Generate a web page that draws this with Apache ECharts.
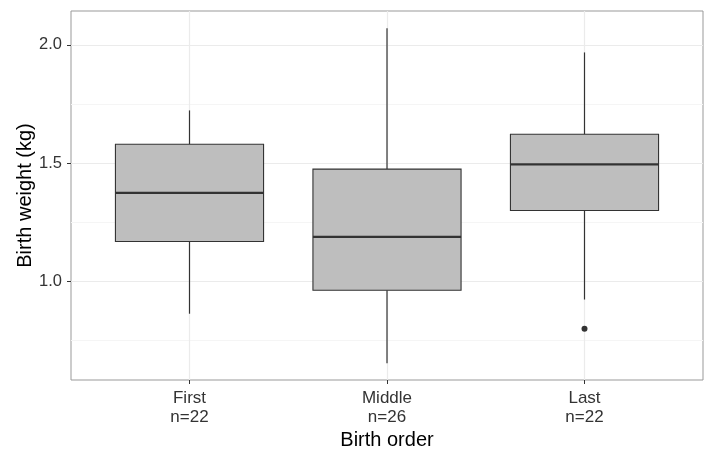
<!DOCTYPE html>
<html>
  <head>
    <meta charset="utf-8">
    <title>Birth weight by birth order</title>
    <style>
      html, body { margin: 0; padding: 0; background: #fff; }
      #main { width: 710px; height: 455px; }
    </style>
    <script src="https://cdn.jsdelivr.net/npm/echarts@6/dist/echarts.min.js"></script>
  </head>
  <body>
    <div id="main"></div>
    <script type="text/javascript">

      // data
      var groups = ['First', 'Middle', 'Last']
      var counts = [22, 26, 22]
      // [min, Q1, median, Q3, max]
      var boxFirst = [0.864, 1.169, 1.375, 1.580, 1.723]
      var boxMiddle = [0.655, 0.963, 1.189, 1.475, 2.070]
      var boxLast = [0.924, 1.300, 1.495, 1.622, 1.968]
      var outliers = [[3, 0.800]]
      var yTicks = [1.0, 1.5, 2.0]
      var yMinor = [0.75, 1.25, 1.75]

      var boxes = [boxFirst, boxMiddle, boxLast]
      var boxData = boxes.map(function (b, i) { return [i + 1].concat(b) })

      var font = 'Liberation Sans'
      var gridColor = '#ebebeb'
      var ink = '#333'

      var myChart = echarts.init(document.getElementById('main'))

      // ggplot-style box: no whisker caps, thick median
      function renderBox(params, api) {
        var x = api.value(0)
        var half = api.size([0.75, 0])[0] / 2
        var pMin = api.coord([x, api.value(1)])
        var pQ1 = api.coord([x, api.value(2)])
        var pMed = api.coord([x, api.value(3)])
        var pQ3 = api.coord([x, api.value(4)])
        var pMax = api.coord([x, api.value(5)])
        var cx = pMed[0]
        return {
          type: 'group',
          children: [
            { type: 'line', shape: { x1: cx, y1: pQ3[1], x2: cx, y2: pMax[1] }, style: { stroke: ink, lineWidth: 1.2 } },
            { type: 'line', shape: { x1: cx, y1: pQ1[1], x2: cx, y2: pMin[1] }, style: { stroke: ink, lineWidth: 1.2 } },
            {
              type: 'rect',
              shape: { x: cx - half, y: pQ3[1], width: half * 2, height: pQ1[1] - pQ3[1] },
              style: { fill: '#bebebe', stroke: ink, lineWidth: 1.1 }
            },
            { type: 'line', shape: { x1: cx - half, y1: pMed[1], x2: cx + half, y2: pMed[1] }, style: { stroke: ink, lineWidth: 2.2 } }
          ]
        }
      }

      var option = {
        animation: false,
        backgroundColor: '#fff',
        grid: {
          left: 71, right: 7, top: 11, bottom: 74,
          show: true,
          borderColor: '#999',
          borderWidth: 1,
          backgroundColor: '#fff'
        },
        xAxis: {
          type: 'value',
          min: 0.4,
          max: 3.6,
          name: 'Birth order',
          nameLocation: 'middle',
          nameGap: 50,
          nameMoveOverlap: false,
          nameTextStyle: { fontFamily: font, fontSize: 20, color: '#000', verticalAlign: 'top' },
          axisLine: { show: false },
          axisTick: { show: true, length: 4, customValues: [1, 2, 3], lineStyle: { color: ink } },
          axisLabel: {
            customValues: [1, 2, 3],
            fontFamily: font, fontSize: 17, color: '#333', lineHeight: 19, margin: 9,
            formatter: function (v) {
              var i = Math.round(v) - 1
              return groups[i] + '\nn=' + counts[i]
            }
          },
          splitLine: { show: false }
        },
        yAxis: {
          type: 'value',
          min: 0.584,
          max: 2.143,
          name: 'Birth weight (kg)',
          nameLocation: 'middle',
          nameGap: 36,
          nameMoveOverlap: false,
          nameTextStyle: { fontFamily: font, fontSize: 20, color: '#000', verticalAlign: 'bottom' },
          axisLine: { show: false },
          axisTick: { show: true, length: 4, customValues: yTicks, lineStyle: { color: ink } },
          axisLabel: {
            customValues: yTicks,
            fontFamily: font, fontSize: 16.5, color: '#333', margin: 9,
            formatter: function (v) { return v.toFixed(1) }
          },
          splitLine: { show: false }
        },
        series: [
          {
            // panel grid lines
            type: 'scatter',
            data: [],
            z: 1,
            silent: true,
            markLine: {
              z: 1,
              silent: true,
              symbol: 'none',
              label: { show: false },
              animation: false,
              data: yMinor.map(function (v) {
                return { yAxis: v, lineStyle: { color: '#f5f5f5', width: 1, type: 'solid' } }
              }).concat(yTicks.map(function (v) {
                return { yAxis: v, lineStyle: { color: gridColor, width: 1.2, type: 'solid' } }
              })).concat([1, 2, 3].map(function (v) {
                return { xAxis: v, lineStyle: { color: gridColor, width: 1.2, type: 'solid' } }
              }))
            }
          },
          {
            type: 'custom',
            z: 5,
            data: boxData,
            renderItem: renderBox
          },
          {
            type: 'scatter',
            z: 6,
            data: outliers,
            symbolSize: 6,
            itemStyle: { color: ink, opacity: 1 }
          }
        ]
      }

      myChart.setOption(option)
    </script>
  </body>
</html>
